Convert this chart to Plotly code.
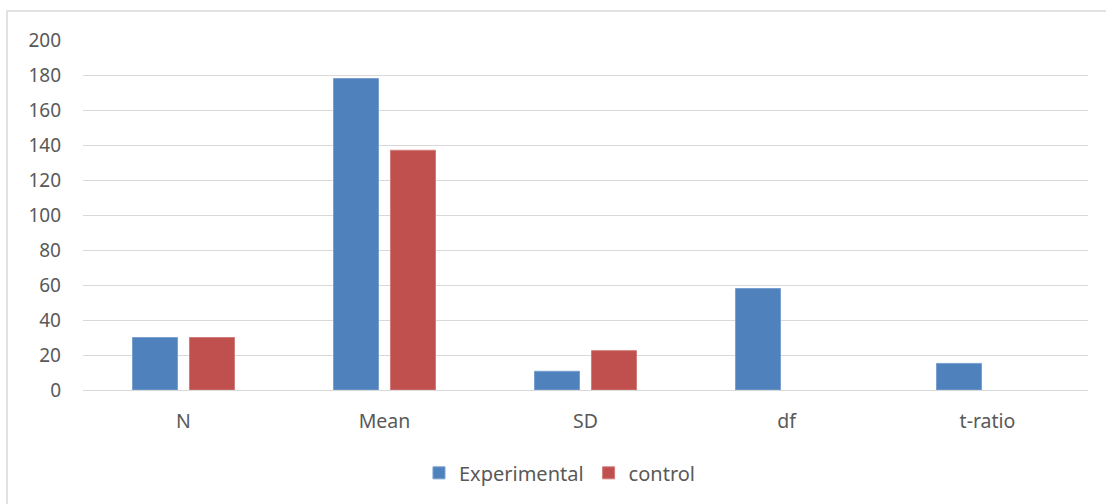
import plotly.graph_objects as go

# Summary statistics for the two groups
categories = ["N", "Mean", "SD", "df", "t-ratio"]
experimental = [30, 178, 10.7, 58, 15.2]
control = [30, 137, 22.5, None, None]
y_ticks = [0, 20, 40, 60, 80, 100, 120, 140, 160, 180, 200]

BLUE = "#4F81BD"
RED = "#C0504D"
TEXT = "#595959"
GRID = "#D9D9D9"

fig = go.Figure()
fig.add_trace(go.Bar(
    name="Experimental", x=categories, y=experimental,
    marker=dict(color=BLUE, line=dict(color="#7A9FD0", width=1)),
))
fig.add_trace(go.Bar(
    name="control", x=categories, y=control,
    marker=dict(color=RED, line=dict(color="#D07C7A", width=1)),
))

fig.update_layout(
    width=1106, height=504,
    margin=dict(l=83, r=18, t=40, b=114, autoexpand=False),
    paper_bgcolor="white", plot_bgcolor="white",
    barmode="group", bargap=0.433, bargroupgap=0.21,
    font=dict(family="Noto Sans, Open Sans, sans-serif", size=19, color=TEXT),
    showlegend=True,
    legend=dict(
        orientation="h", x=0.4746, xanchor="center", y=-0.181, yanchor="top",
        font=dict(size=20, color=TEXT), itemwidth=30,
        traceorder="normal",
    ),
    xaxis=dict(
        showgrid=False, showline=False, zeroline=False, ticks="",
        automargin=False,
        ticklabelstandoff=17, tickfont=dict(size=19.5, color=TEXT),
    ),
    yaxis=dict(
        range=[0, 200], tickvals=y_ticks, showgrid=True, gridcolor=GRID,
        gridwidth=1, zeroline=True, zerolinecolor=GRID, zerolinewidth=1,
        automargin=False,
        showline=False, ticks="", ticklabelstandoff=21,
        tickfont=dict(size=19, color=TEXT),
    ),
    shapes=[dict(
        type="rect", xref="paper", yref="paper",
        x0=-0.0756, x1=1.2, y0=-0.5, y1=1.083,
        line=dict(color=GRID, width=1.5), fillcolor="rgba(0,0,0,0)",
        layer="below",
    )],
)

fig.write_html("out.html")
